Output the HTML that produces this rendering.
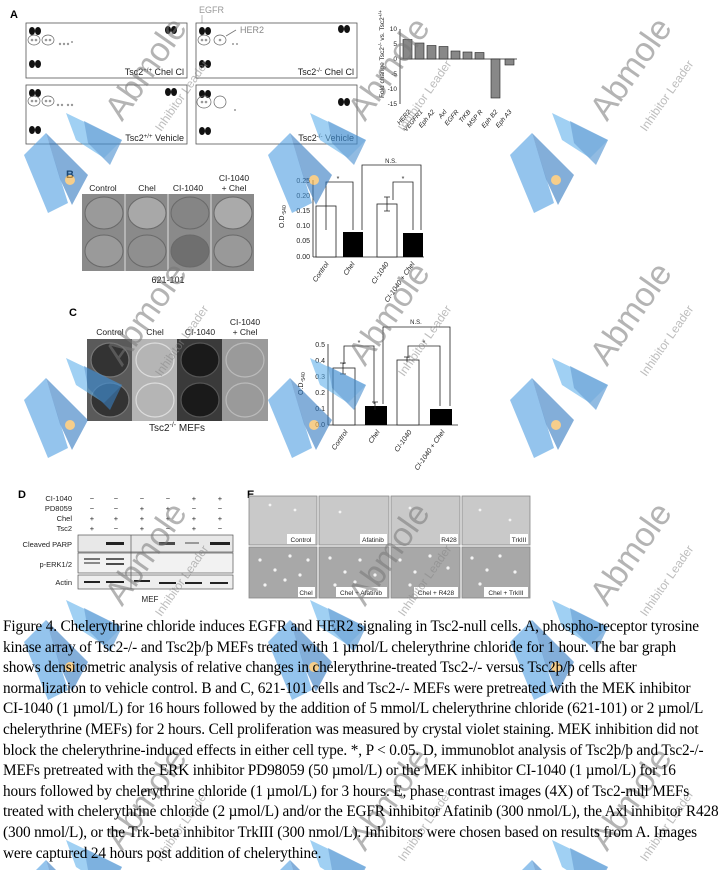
<!DOCTYPE html>
<html><head><meta charset="utf-8"><style>
html,body{margin:0;padding:0;background:#fff;}
body{width:727px;height:870px;position:relative;overflow:hidden;font-family:"Liberation Sans",sans-serif;}
svg{position:absolute;left:0;top:0;}
.cap{position:absolute;left:3px;top:617px;font-family:"Liberation Serif",serif;font-size:15.3px;line-height:20.6px;color:#000;white-space:nowrap;letter-spacing:-0.15px;}
</style></head><body>
<svg width="727" height="870" viewBox="0 0 727 870" font-family="Liberation Sans, sans-serif">
<defs>
<g id="chev">
<polygon points="0,42 22,20 44,90 24,100" fill="#4a9be0" opacity="0.85"/>
<polygon points="22,20 64,62 48,92 36,66" fill="#2f77c0" opacity="0.85"/>
<polygon points="42,0 98,27 80,45 52,27" fill="#5fb0ea" opacity="0.85"/>
<polygon points="60,8 98,27 86,52 64,30" fill="#3a85cc" opacity="0.8"/>
<circle cx="46" cy="67" r="5" fill="#f3b95a"/>
</g>
</defs>

<text x="10" y="18" font-size="11" font-weight="bold">A</text>
<text x="199" y="13" font-size="9" fill="#999">EGFR</text>
<line x1="202" y1="15" x2="202" y2="28" stroke="#999" stroke-width="0.7"/>
<g stroke="#555" stroke-width="0.8" fill="#fff">
<rect x="26" y="23" width="161" height="55"/>
<rect x="196" y="23" width="161" height="55"/>
<rect x="26" y="85" width="161" height="59"/>
<rect x="196" y="85" width="161" height="59"/>
</g>
<g fill="#111">
<ellipse cx="32" cy="31" rx="3" ry="4"/><ellipse cx="38" cy="31" rx="3" ry="4"/>
<ellipse cx="32" cy="64" rx="3" ry="4"/><ellipse cx="38" cy="64" rx="3" ry="4"/>
<ellipse cx="168" cy="30" rx="3" ry="4"/><ellipse cx="174" cy="30" rx="3" ry="4"/>
<ellipse cx="202" cy="31" rx="3" ry="4"/><ellipse cx="208" cy="31" rx="3" ry="4"/>
<ellipse cx="202" cy="64" rx="3" ry="4"/><ellipse cx="208" cy="64" rx="3" ry="4"/>
<ellipse cx="341" cy="29" rx="3" ry="4"/><ellipse cx="347" cy="29" rx="3" ry="4"/>
<ellipse cx="32" cy="93" rx="3" ry="4"/><ellipse cx="38" cy="93" rx="3" ry="4"/>
<ellipse cx="32" cy="130" rx="3" ry="4"/><ellipse cx="38" cy="130" rx="3" ry="4"/>
<ellipse cx="168" cy="92" rx="3" ry="4"/><ellipse cx="174" cy="92" rx="3" ry="4"/>
<ellipse cx="202" cy="94" rx="3" ry="4"/><ellipse cx="208" cy="94" rx="3" ry="4"/>
<ellipse cx="202" cy="131" rx="3" ry="4"/><ellipse cx="208" cy="131" rx="3" ry="4"/>
<ellipse cx="341" cy="102" rx="3" ry="4"/><ellipse cx="347" cy="102" rx="3" ry="4"/>
</g>
<g fill="#999">
<circle cx="32" cy="40" r="1.3"/><circle cx="36" cy="40" r="1.3"/><circle cx="46" cy="40" r="1.3"/><circle cx="50" cy="40" r="1.3"/>
<circle cx="60" cy="44" r="1.2"/><circle cx="64" cy="44" r="1.2"/><circle cx="68" cy="44" r="1.2"/><circle cx="72" cy="42" r="1"/>
<circle cx="202" cy="40" r="1.3"/><circle cx="206" cy="40" r="1.3"/><circle cx="220" cy="40" r="1.3"/><circle cx="233" cy="44" r="1"/><circle cx="237" cy="44" r="1"/>
<circle cx="32" cy="101" r="1.3"/><circle cx="36" cy="101" r="1.3"/><circle cx="46" cy="101" r="1.3"/><circle cx="50" cy="101" r="1.3"/>
<circle cx="58" cy="105" r="1.2"/><circle cx="62" cy="105" r="1.2"/><circle cx="68" cy="105" r="1.2"/><circle cx="72" cy="105" r="1.2"/>
<circle cx="202" cy="102" r="1.3"/><circle cx="206" cy="102" r="1.3"/><circle cx="235" cy="110" r="1"/>
</g>
<g fill="none" stroke="#666" stroke-width="0.7">
<ellipse cx="34" cy="40" rx="6" ry="5"/><ellipse cx="48" cy="40" rx="6" ry="5"/>
<ellipse cx="204" cy="40" rx="6" ry="5"/><ellipse cx="220" cy="40" rx="6" ry="5"/>
<ellipse cx="34" cy="101" rx="6" ry="5"/><ellipse cx="48" cy="101" rx="6" ry="5"/>
<ellipse cx="204" cy="102" rx="7" ry="6"/><ellipse cx="220" cy="102" rx="6" ry="6"/>
</g>
<line x1="226" y1="36" x2="236" y2="30" stroke="#777" stroke-width="0.8"/>
<text x="240" y="33" font-size="9" fill="#888">HER2</text>
<g font-size="9" fill="#222" text-anchor="end">
<text x="184" y="75">Tsc2<tspan font-size="6" dy="-3">+/+</tspan><tspan dy="3"> Chel Cl</tspan></text>
<text x="354" y="75">Tsc2<tspan font-size="6" dy="-3">-/-</tspan><tspan dy="3"> Chel Cl</tspan></text>
<text x="184" y="141">Tsc2<tspan font-size="6" dy="-3">+/+</tspan><tspan dy="3"> Vehicle</tspan></text>
<text x="354" y="141">Tsc2<tspan font-size="6" dy="-3">-/-</tspan><tspan dy="3"> Vehicle</tspan></text>
</g>
<g font-size="6.5" fill="#222">
<line x1="400" y1="29" x2="400" y2="104" stroke="#222" stroke-width="0.8"/>
<line x1="400" y1="59" x2="517" y2="59" stroke="#222" stroke-width="0.8"/>
<g text-anchor="end"><text x="397" y="31">10</text><text x="397" y="46">5</text><text x="397" y="61">0</text><text x="397" y="76">-5</text><text x="397" y="91">-10</text><text x="397" y="106">-15</text></g>
<text transform="translate(384,98) rotate(-90)" font-size="6.5">Fold change Tsc2<tspan font-size="5" dy="-2">-/-</tspan><tspan dy="2"> vs. Tsc2</tspan><tspan font-size="5" dy="-2">+/+</tspan></text>
<g fill="#888" stroke="#222" stroke-width="0.6">
<rect x="403" y="39.5" width="9" height="19.5"/><rect x="415" y="43" width="9" height="16"/><rect x="427" y="45.5" width="9" height="13.5"/>
<rect x="439" y="46.5" width="9" height="12.5"/><rect x="451" y="51" width="9" height="8"/><rect x="463" y="52" width="9" height="7"/>
<rect x="475" y="52.5" width="9" height="6.5"/><rect x="491" y="59" width="9" height="39"/><rect x="505" y="59" width="9" height="6"/>
</g>
<g font-style="italic">
<text transform="translate(411,112) rotate(-50)" text-anchor="end">HER2</text>
<text transform="translate(423,112) rotate(-50)" text-anchor="end">VEGFR1</text>
<text transform="translate(435,112) rotate(-50)" text-anchor="end">Eph A2</text>
<text transform="translate(447,112) rotate(-50)" text-anchor="end">Axl</text>
<text transform="translate(459,112) rotate(-50)" text-anchor="end">EGFR</text>
<text transform="translate(471,112) rotate(-50)" text-anchor="end">TrKB</text>
<text transform="translate(483,112) rotate(-50)" text-anchor="end">MSP R</text>
<text transform="translate(498,112) rotate(-50)" text-anchor="end">Eph B2</text>
<text transform="translate(512,112) rotate(-50)" text-anchor="end">Eph A3</text>
</g>
</g>

<text x="66" y="178" font-size="11" font-weight="bold">B</text>
<g font-size="8.5" fill="#222" text-anchor="middle">
<text x="103" y="191">Control</text><text x="147" y="191">Chel</text><text x="188" y="191">CI-1040</text>
<text x="234" y="181">CI-1040</text><text x="234" y="191">+ Chel</text>
<text x="168" y="283" font-size="9">621-101</text>
</g>
<rect x="82" y="194" width="172" height="77" fill="#8a8a8a"/>
<g fill="#9a9a9a" stroke="#6a6a6a" stroke-width="1">
<ellipse cx="104" cy="213" rx="19" ry="16"/><ellipse cx="147" cy="213" rx="19" ry="16" fill="#a8a8a8"/><ellipse cx="190" cy="213" rx="19" ry="16" fill="#858585"/><ellipse cx="233" cy="213" rx="19" ry="16" fill="#aaa"/>
<ellipse cx="104" cy="251" rx="19" ry="16"/><ellipse cx="147" cy="251" rx="19" ry="16" fill="#8f8f8f"/><ellipse cx="190" cy="251" rx="19" ry="16" fill="#6f6f6f"/><ellipse cx="233" cy="251" rx="19" ry="16" fill="#999"/>
</g>
<g stroke="#ddd" stroke-width="1"><line x1="125" y1="194" x2="125" y2="271"/><line x1="168" y1="194" x2="168" y2="271"/><line x1="211" y1="194" x2="211" y2="271"/></g>
<g font-size="7" fill="#222" stroke-width="0.8">
<line x1="313" y1="180" x2="313" y2="257" stroke="#222"/>
<line x1="313" y1="257" x2="424" y2="257" stroke="#222"/>
<g text-anchor="end"><text x="310" y="183">0.25</text><text x="310" y="198">0.20</text><text x="310" y="213">0.15</text><text x="310" y="228">0.10</text><text x="310" y="243">0.05</text><text x="310" y="259">0.00</text></g>
<text transform="translate(284,228) rotate(-90)">O.D.<tspan font-size="5" dy="2">540</tspan></text>
<rect x="316" y="206" width="20" height="51" fill="#fff" stroke="#222"/>
<rect x="343" y="232" width="20" height="25" fill="#000"/>
<rect x="377" y="204" width="20" height="53" fill="#fff" stroke="#222"/>
<rect x="403" y="233" width="20" height="24" fill="#000"/>
<g stroke="#222" fill="none">
<path d="M384,197 h6 M387,197 v14 M384,211 h6"/>
<path d="M326,230 V182 H353 V230"/><path d="M362,230 V165 H421 V230"/><path d="M393,200 V182 H413 V230"/>
</g>
<text x="338" y="181" text-anchor="middle">*</text><text x="403" y="181" text-anchor="middle">*</text>
<text x="391" y="163" text-anchor="middle" font-size="6">N.S.</text>
<g font-style="italic" text-anchor="end">
<text transform="translate(329,264) rotate(-55)">Control</text>
<text transform="translate(355,264) rotate(-55)">Chel</text>
<text transform="translate(389,264) rotate(-55)">CI-1040</text>
<text transform="translate(415,264) rotate(-55)">CI-1040 + Chel</text>
</g>
</g>

<text x="69" y="316" font-size="11" font-weight="bold">C</text>
<g font-size="8.5" fill="#222" text-anchor="middle">
<text x="110" y="335">Control</text><text x="155" y="335">Chel</text><text x="200" y="335">CI-1040</text>
<text x="245" y="325">CI-1040</text><text x="245" y="335">+ Chel</text>
<text x="177" y="431" font-size="10">Tsc2<tspan font-size="7" dy="-4">-/-</tspan><tspan dy="4"> MEFs</tspan></text>
</g>
<rect x="87" y="339" width="45" height="82" fill="#5a5a5a"/>
<rect x="132" y="339" width="45" height="82" fill="#b5b5b5"/>
<rect x="177" y="339" width="45" height="82" fill="#3a3a3a"/>
<rect x="222" y="339" width="46" height="82" fill="#9a9a9a"/>
<g fill="none" stroke-width="1.2">
<ellipse cx="110" cy="360" rx="19" ry="17" fill="#333" stroke="#777"/><ellipse cx="110" cy="400" rx="19" ry="17" fill="#333" stroke="#777"/>
<ellipse cx="155" cy="360" rx="19" ry="17" stroke="#ddd"/><ellipse cx="155" cy="400" rx="19" ry="17" stroke="#ddd"/>
<ellipse cx="200" cy="360" rx="19" ry="17" fill="#1a1a1a" stroke="#555"/><ellipse cx="200" cy="400" rx="19" ry="17" fill="#1a1a1a" stroke="#555"/>
<ellipse cx="245" cy="360" rx="19" ry="17" stroke="#bbb"/><ellipse cx="245" cy="400" rx="19" ry="17" stroke="#bbb"/>
</g>
<g font-size="7" fill="#222" stroke-width="0.8">
<line x1="328" y1="344" x2="328" y2="425" stroke="#222"/>
<line x1="328" y1="425" x2="458" y2="425" stroke="#222"/>
<g text-anchor="end"><text x="325" y="347">0.5</text><text x="325" y="363">0.4</text><text x="325" y="379">0.3</text><text x="325" y="395">0.2</text><text x="325" y="411">0.1</text><text x="325" y="427">0.0</text></g>
<text transform="translate(303,395) rotate(-90)">O.D.<tspan font-size="5" dy="2">540</tspan></text>
<rect x="333" y="368" width="22" height="57" fill="#fff" stroke="#222"/>
<rect x="365" y="406" width="22" height="19" fill="#000"/>
<rect x="397" y="360" width="22" height="65" fill="#fff" stroke="#222"/>
<rect x="430" y="409" width="22" height="16" fill="#000"/>
<g stroke="#222" fill="none">
<path d="M340,363 h6 M343,363 v11 M340,374 h6"/><path d="M372,402 h6 M375,402 v8"/><path d="M404,357 h6 M407,357 v5"/>
<path d="M344,364 V346 H374 V404"/><path d="M383,404 V327 H450 V406"/><path d="M408,358 V346 H440 V406"/>
</g>
<text x="359" y="345" text-anchor="middle">*</text><text x="424" y="345" text-anchor="middle">*</text>
<text x="416" y="324" text-anchor="middle" font-size="6">N.S.</text>
<g font-style="italic" text-anchor="end">
<text transform="translate(348,432) rotate(-55)">Control</text>
<text transform="translate(380,432) rotate(-55)">Chel</text>
<text transform="translate(412,432) rotate(-55)">CI-1040</text>
<text transform="translate(445,432) rotate(-55)">CI-1040 + Chel</text>
</g>
</g>

<text x="18" y="498" font-size="11" font-weight="bold">D</text>
<g font-size="7.5" fill="#222">
<g text-anchor="end"><text x="72" y="501">CI-1040</text><text x="72" y="511">PD8059</text><text x="72" y="521">Chel</text><text x="72" y="531">Tsc2</text>
<text x="72" y="547">Cleaved PARP</text><text x="72" y="567">p-ERK1/2</text><text x="72" y="585">Actin</text></g>
<g text-anchor="middle">
<text x="92" y="501">−</text><text x="116" y="501">−</text><text x="142" y="501">−</text><text x="168" y="501">−</text><text x="194" y="501">+</text><text x="220" y="501">+</text>
<text x="92" y="511">−</text><text x="116" y="511">−</text><text x="142" y="511">+</text><text x="168" y="511">+</text><text x="194" y="511">−</text><text x="220" y="511">−</text>
<text x="92" y="521">+</text><text x="116" y="521">+</text><text x="142" y="521">+</text><text x="168" y="521">+</text><text x="194" y="521">+</text><text x="220" y="521">+</text>
<text x="92" y="531">+</text><text x="116" y="531">−</text><text x="142" y="531">+</text><text x="168" y="531">−</text><text x="194" y="531">+</text><text x="220" y="531">−</text>
<text x="150" y="602" font-size="8">MEF</text>
</g>
</g>
<g stroke="#555" stroke-width="0.7">
<rect x="78" y="535" width="155" height="17" fill="#e8e8e8"/>
<rect x="78" y="553" width="155" height="20" fill="#f2f2f2"/>
<rect x="78" y="575" width="155" height="14" fill="#eee"/>
<line x1="131" y1="535" x2="131" y2="589"/>
</g>
<g fill="#222">
<rect x="106" y="542" width="18" height="3"/><rect x="159" y="542" width="16" height="3" opacity="0.8"/><rect x="185" y="542" width="14" height="2" opacity="0.4"/><rect x="210" y="542" width="20" height="3"/>
<rect x="84" y="558" width="16" height="2" opacity="0.6"/><rect x="106" y="558" width="18" height="2" opacity="0.7"/><rect x="106" y="563" width="18" height="2" opacity="0.8"/><rect x="84" y="562" width="16" height="2" opacity="0.5"/>
<rect x="84" y="581" width="16" height="2"/><rect x="106" y="581" width="18" height="2"/><rect x="134" y="580" width="16" height="2"/><rect x="159" y="582" width="17" height="2"/><rect x="185" y="582" width="17" height="2"/><rect x="210" y="582" width="18" height="2"/>
</g>

<text x="247" y="498" font-size="11" font-weight="bold">E</text>
<g stroke="#888" stroke-width="0.8" fill="#c9c9c9">
<rect x="249" y="496" width="68" height="49"/><rect x="319" y="496" width="70" height="49"/><rect x="391" y="496" width="69" height="49"/><rect x="462" y="496" width="68" height="49"/>
</g>
<g stroke="#888" stroke-width="0.8" fill="#a8a8a8">
<rect x="249" y="547" width="68" height="51"/><rect x="319" y="547" width="70" height="51"/><rect x="391" y="547" width="69" height="51"/><rect x="462" y="547" width="68" height="51"/>
</g>
<g fill="#f4f4f4">
<circle cx="260" cy="560" r="1.6"/><circle cx="275" cy="570" r="1.6"/><circle cx="290" cy="556" r="1.6"/><circle cx="300" cy="575" r="1.6"/><circle cx="265" cy="585" r="1.6"/><circle cx="285" cy="580" r="1.6"/><circle cx="308" cy="560" r="1.6"/>
<circle cx="330" cy="558" r="1.6"/><circle cx="345" cy="572" r="1.6"/><circle cx="360" cy="560" r="1.6"/><circle cx="375" cy="575" r="1.6"/><circle cx="335" cy="585" r="1.6"/><circle cx="355" cy="582" r="1.6"/>
<circle cx="400" cy="560" r="1.6"/><circle cx="415" cy="572" r="1.6"/><circle cx="430" cy="556" r="1.6"/><circle cx="448" cy="568" r="1.6"/><circle cx="410" cy="585" r="1.6"/>
<circle cx="472" cy="558" r="1.6"/><circle cx="487" cy="570" r="1.6"/><circle cx="500" cy="556" r="1.6"/><circle cx="515" cy="572" r="1.6"/><circle cx="480" cy="584" r="1.6"/>
<circle cx="270" cy="505" r="1.4"/><circle cx="295" cy="510" r="1.4"/><circle cx="340" cy="512" r="1.4"/><circle cx="410" cy="508" r="1.4"/><circle cx="480" cy="510" r="1.4"/><circle cx="510" cy="520" r="1.4"/>
</g>
<g font-size="6.5" fill="#222" text-anchor="middle">
<rect x="287" y="534" width="28" height="10" fill="#fff"/><text x="301" y="542">Control</text>
<rect x="360" y="534" width="27" height="10" fill="#fff"/><text x="373" y="542">Afatinib</text>
<rect x="440" y="534" width="18" height="10" fill="#fff"/><text x="449" y="542">R428</text>
<rect x="510" y="534" width="18" height="10" fill="#fff"/><text x="519" y="542">TrkIII</text>
<rect x="298" y="587" width="17" height="10" fill="#fff"/><text x="306" y="595">Chel</text>
<rect x="336" y="587" width="51" height="10" fill="#fff"/><text x="361" y="595">Chel + Afatinib</text>
<rect x="414" y="587" width="44" height="10" fill="#fff"/><text x="436" y="595">Chel + R428</text>
<rect x="484" y="587" width="44" height="10" fill="#fff"/><text x="506" y="595">Chel + TrkIII</text>
</g>

<g opacity="0.7">
<use href="#chev" x="24" y="113"/><use href="#chev" x="268" y="113"/><use href="#chev" x="510" y="113"/>
<use href="#chev" x="24" y="358"/><use href="#chev" x="268" y="358"/><use href="#chev" x="510" y="358"/>
<use href="#chev" x="24" y="600"/><use href="#chev" x="268" y="600"/><use href="#chev" x="510" y="600"/>
<use href="#chev" x="24" y="840"/><use href="#chev" x="268" y="840"/><use href="#chev" x="510" y="840"/>
</g>
<g fill="#777" opacity="0.55" font-size="34" text-anchor="middle">
<text transform="translate(155,75) rotate(-55)">Abmole</text>
<text transform="translate(398,75) rotate(-55)">Abmole</text>
<text transform="translate(640,75) rotate(-55)">Abmole</text>
<text transform="translate(155,320) rotate(-55)">Abmole</text>
<text transform="translate(398,320) rotate(-55)">Abmole</text>
<text transform="translate(640,320) rotate(-55)">Abmole</text>
<text transform="translate(155,560) rotate(-55)">Abmole</text>
<text transform="translate(398,560) rotate(-55)">Abmole</text>
<text transform="translate(640,560) rotate(-55)">Abmole</text>
<text transform="translate(155,805) rotate(-55)">Abmole</text>
<text transform="translate(398,805) rotate(-55)">Abmole</text>
<text transform="translate(640,805) rotate(-55)">Abmole</text>
</g>
<g fill="#888" opacity="0.55" font-size="12" text-anchor="middle">
<text transform="translate(185,98) rotate(-55)">Inhibitor Leader</text>
<text transform="translate(428,98) rotate(-55)">Inhibitor Leader</text>
<text transform="translate(670,98) rotate(-55)">Inhibitor Leader</text>
<text transform="translate(185,343) rotate(-55)">Inhibitor Leader</text>
<text transform="translate(428,343) rotate(-55)">Inhibitor Leader</text>
<text transform="translate(670,343) rotate(-55)">Inhibitor Leader</text>
<text transform="translate(185,583) rotate(-55)">Inhibitor Leader</text>
<text transform="translate(428,583) rotate(-55)">Inhibitor Leader</text>
<text transform="translate(670,583) rotate(-55)">Inhibitor Leader</text>
<text transform="translate(185,828) rotate(-55)">Inhibitor Leader</text>
<text transform="translate(428,828) rotate(-55)">Inhibitor Leader</text>
<text transform="translate(670,828) rotate(-55)">Inhibitor Leader</text>
</g>
</svg>
<div class="cap">Figure 4. Chelerythrine chloride induces EGFR and HER2 signaling in Tsc2-null cells. A, phospho-receptor tyrosine<br>kinase array of Tsc2-/- and Tsc2þ/þ MEFs treated with 1 µmol/L chelerythrine chloride for 1 hour. The bar graph<br>shows densitometric analysis of relative changes in chelerythrine-treated Tsc2-/- versus Tsc2þ/þ cells after<br>normalization to vehicle control. B and C, 621-101 cells and Tsc2-/- MEFs were pretreated with the MEK inhibitor<br>CI-1040 (1 µmol/L) for 16 hours followed by the addition of 5 mmol/L chelerythrine chloride (621-101) or 2 µmol/L<br>chelerythrine (MEFs) for 2 hours. Cell proliferation was measured by crystal violet staining. MEK inhibition did not<br>block the chelerythrine-induced effects in either cell type. *, P &lt; 0.05. D, immunoblot analysis of Tsc2þ/þ and Tsc2-/-<br>MEFs pretreated with the ERK inhibitor PD98059 (50 µmol/L) or the MEK inhibitor CI-1040 (1 µmol/L) for 16<br>hours followed by chelerythrine chloride (1 µmol/L) for 3 hours. E, phase contrast images (4X) of Tsc2-null MEFs<br>treated with chelerythrine chloride (2 µmol/L) and/or the EGFR inhibitor Afatinib (300 nmol/L), the Axl inhibitor R428<br>(300 nmol/L), or the Trk-beta inhibitor TrkIII (300 nmol/L). Inhibitors were chosen based on results from A. Images<br>were captured 24 hours post addition of chelerythine.</div>
</body></html>
